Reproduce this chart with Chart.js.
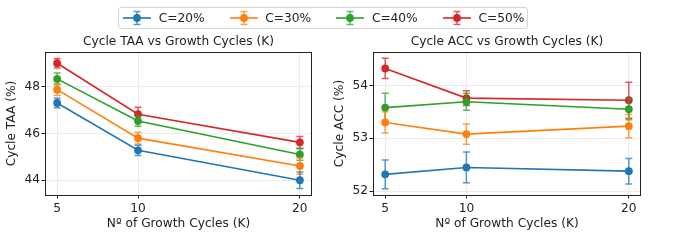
<!DOCTYPE html>
<html><head><meta charset="utf-8">
<script src="https://cdn.jsdelivr.net/npm/chart.js@4.4.0/dist/chart.umd.min.js"></script>
<style>
html,body{margin:0;padding:0;background:#fff;}
#wrap{position:relative;width:693px;height:240px;overflow:hidden;font-family:'DejaVu Sans',sans-serif;background:#fff;}
#c1{position:absolute;left:0;top:0;width:320px;height:240px;}
#c2{position:absolute;left:320px;top:0;width:373px;height:240px;}
#legend{position:absolute;left:118px;top:7px;width:408px;height:20px;border:1px solid #d5d5d5;border-radius:3px;background:rgba(255,255,255,0.85);}
.item{position:absolute;top:0;height:20px;}
.item svg{position:absolute;left:0;top:0;}
.item span{position:absolute;left:35.7px;top:0;line-height:20px;font-size:12.2px;color:#222;white-space:nowrap;font-family:'DejaVu Sans',sans-serif;}
</style></head>
<body><div id="wrap"><canvas id="c1" width="320" height="240"></canvas><canvas id="c2" width="373" height="240"></canvas><div id="legend"></div></div>
<script>
// ---- data ----
const growthCycles = [5, 10, 20];
const xTickValues = [5, 10, 20];
const seriesLabels = ['C=20%', 'C=30%', 'C=40%', 'C=50%'];
const seriesColors = ['#1f77b4', '#ff7f0e', '#2ca02c', '#d62728'];

const taaTitle = 'Cycle TAA vs Growth Cycles (K)';
const accTitle = 'Cycle ACC vs Growth Cycles (K)';
const xAxisLabel = 'Nº of Growth Cycles (K)';
const taaYLabel = 'Cycle TAA (%)';
const accYLabel = 'Cycle ACC (%)';

const taaYTicks = [44, 46, 48];
const accYTicks = [52, 53, 54];

const taaC20 = [47.30, 45.28, 44.00];
const taaC30 = [47.87, 45.80, 44.61];
const taaC40 = [48.33, 46.53, 45.10];
const taaC50 = [49.00, 46.82, 45.62];
const taaC20Err = [0.20, 0.22, 0.35];
const taaC30Err = [0.25, 0.25, 0.35];
const taaC40Err = [0.25, 0.22, 0.25];
const taaC50Err = [0.20, 0.30, 0.25];

const accC20 = [52.32, 52.45, 52.38];
const accC30 = [53.30, 53.08, 53.23];
const accC40 = [53.58, 53.69, 53.55];
const accC50 = [54.32, 53.76, 53.72];
const accC20Err = [0.27, 0.29, 0.24];
const accC30Err = [0.20, 0.19, 0.22];
const accC40Err = [0.27, 0.16, 0.20];
const accC50Err = [0.19, 0.14, 0.34];

// ---- helpers ----
const FONT = {family: "'DejaVu Sans', sans-serif", size: 12.2};
const TEXT = '#222';

function makeDatasets(vals, errs) {
  return vals.map((arr, k) => ({
    label: seriesLabels[k],
    data: growthCycles.map((x, i) => ({x: x, y: arr[i]})),
    errors: errs[k],
    borderColor: seriesColors[k],
    backgroundColor: seriesColors[k],
    pointBackgroundColor: seriesColors[k],
    pointBorderWidth: 0,
    pointRadius: 3.9,
    borderWidth: 1.6,
    tension: 0,
    showLine: true,
    fill: false
  }));
}

const errorBarPlugin = {
  id: 'errbars',
  afterDatasetDraw(chart, args) {
    const ds = chart.data.datasets[args.index];
    const ys = chart.scales.y;
    const ctx = chart.ctx;
    ctx.save();
    ctx.strokeStyle = ds.borderColor;
    ctx.globalAlpha = 0.75;
    ctx.lineWidth = 1.5;
    args.meta.data.forEach((pt, i) => {
      const v = ds.data[i].y, e = ds.errors[i];
      const yt = ys.getPixelForValue(v + e), yb = ys.getPixelForValue(v - e);
      const x = pt.x;
      ctx.beginPath();
      ctx.moveTo(x, yt); ctx.lineTo(x, yb);
      ctx.moveTo(x - 3.5, yt); ctx.lineTo(x + 3.5, yt);
      ctx.moveTo(x - 3.5, yb); ctx.lineTo(x + 3.5, yb);
      ctx.stroke();
    });
    ctx.restore();
  }
};

const framePlugin = {
  id: 'frame',
  afterDraw(chart, args, opts) {
    const a = chart.chartArea, ctx = chart.ctx;
    ctx.save();
    ctx.strokeStyle = TEXT;
    ctx.lineWidth = 1;
    ctx.strokeRect(Math.round(a.left) + 0.5, Math.round(a.top) + 0.5, Math.round(a.right - a.left) - 1, Math.round(a.bottom - a.top));
    ctx.fillStyle = TEXT;
    ctx.font = FONT.size + 'px ' + FONT.family;
    ctx.textAlign = 'center';
    ctx.textBaseline = 'middle';
    ctx.fillText(opts.text, (a.left + a.right) / 2, a.top - 10);
    ctx.restore();
  }
};

function makeChart(id, title, yLabel, datasets, yMin, yMax, yTicks, yWidth, yTitlePad, padRight) {
  return new Chart(document.getElementById(id), {
    type: 'line',
    data: {datasets: datasets},
    plugins: [errorBarPlugin, framePlugin],
    options: {
      responsive: false,
      animation: false,
      layout: {padding: {left: 0, right: padRight, top: 52, bottom: 0}},
      plugins: {legend: {display: false}, tooltip: {enabled: false}, frame: {text: title}},
      scales: {
        x: {
          type: 'linear', min: 4.25, max: 20.75,
          afterBuildTicks: s => { s.ticks = xTickValues.map(v => ({value: v})); },
          afterFit: s => { s.height = 45; },
          grid: {color: '#ebebeb', lineWidth: 1, drawTicks: true, tickLength: 3.5, tickColor: TEXT, tickWidth: 1},
          border: {display: false},
          ticks: {font: FONT, color: TEXT, padding: 3, maxRotation: 0, autoSkip: false},
          title: {display: true, text: xAxisLabel, font: FONT, color: TEXT, padding: {top: 0, bottom: 8.7}}
        },
        y: {
          type: 'linear', min: yMin, max: yMax,
          afterBuildTicks: s => { s.ticks = yTicks.map(v => ({value: v})); },
          afterFit: s => { s.width = yWidth; },
          grid: {color: '#ebebeb', lineWidth: 1, drawTicks: true, tickLength: 3.5, tickColor: TEXT, tickWidth: 1},
          border: {display: false},
          ticks: {font: FONT, color: TEXT, padding: 1.5, autoSkip: false},
          title: {display: true, text: yLabel, font: FONT, color: TEXT, padding: {top: yTitlePad, bottom: 0}}
        }
      }
    }
  });
}

makeChart('c1', taaTitle, taaYLabel,
  makeDatasets([taaC20, taaC30, taaC40, taaC50], [taaC20Err, taaC30Err, taaC40Err, taaC50Err]),
  43.37, 49.48, taaYTicks, 45, 4.7, 8);
makeChart('c2', accTitle, accYLabel,
  makeDatasets([accC20, accC30, accC40, accC50], [accC20Err, accC30Err, accC40Err, accC50Err]),
  51.93, 54.63, accYTicks, 53, 12.7, 52);

// ---- legend ----
const legend = document.getElementById('legend');
seriesLabels.forEach((lab, k) => {
  const c = seriesColors[k];
  const d = document.createElement('div');
  d.className = 'item';
  d.style.left = (4 + k * 106.6) + 'px';
  d.style.width = '100px';
  d.innerHTML = '<svg width="28" height="20" viewBox="0 0 28 20">' +
    '<line x1="0" y1="10" x2="28" y2="10" stroke="' + c + '" stroke-width="1.6"/>' +
    '<g stroke="' + c + '" stroke-width="1.5" opacity="0.75"><line x1="14" y1="3.5" x2="14" y2="16.5"/><line x1="10.5" y1="3.5" x2="17.5" y2="3.5"/><line x1="10.5" y1="16.5" x2="17.5" y2="16.5"/></g>' +
    '<circle cx="14" cy="10" r="3.9" fill="' + c + '"/></svg><span>' + lab + '</span>';
  legend.appendChild(d);
});
</script>
</body></html>
